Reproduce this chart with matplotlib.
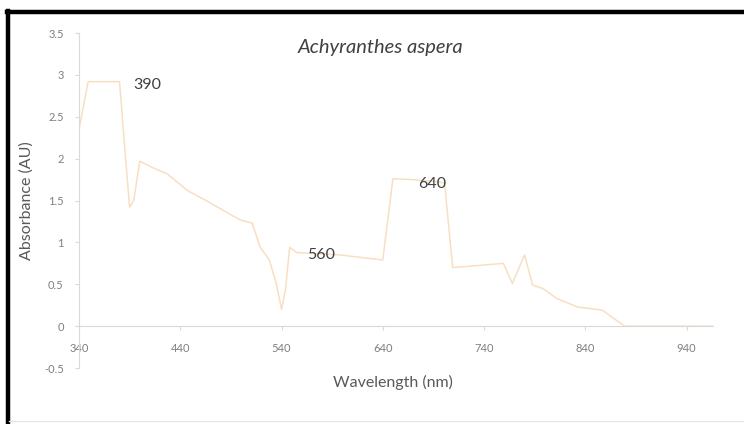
import matplotlib
matplotlib.use("Agg")
import matplotlib.pyplot as plt
from matplotlib.lines import Line2D
import numpy as np

plt.rcParams['font.family'] = ['Lato', 'DejaVu Sans']

# spectrum
wavelength = [340, 349, 380, 386, 390, 394, 400, 415, 427, 447, 470, 490, 499, 511, 519, 528,
              535, 540, 544, 548, 555, 598, 640, 650, 670, 690, 701, 709, 730, 759, 768, 780,
              788, 798, 812, 832, 857, 866, 879, 900, 940, 966]
absorbance = [2.35, 2.92, 2.92, 2.0, 1.42, 1.5, 1.97, 1.88, 1.82, 1.62, 1.47, 1.33, 1.27, 1.23, 0.94, 0.79,
              0.5, 0.2, 0.45, 0.94, 0.88, 0.85, 0.79, 1.76, 1.75, 1.73, 1.71, 0.70, 0.72, 0.75, 0.51, 0.85,
              0.49, 0.45, 0.33, 0.23, 0.19, 0.11, 0.0, 0.0, 0.0, 0.0]

peak_labels = ['390', '560', '640']
peak_x = [394, 565, 675]
peak_y = [2.88, 0.85, 1.70]

x_ticks = [340, 440, 540, 640, 740, 840, 940]
y_ticks = [-0.5, 0, 0.5, 1, 1.5, 2, 2.5, 3, 3.5]

fig = plt.figure(figsize=(7.44, 4.24), dpi=100)
ax = fig.add_axes([0.1062, 0.132, 0.852, 0.790])

ax.plot(wavelength, absorbance, color='#f8dfc2', lw=1.1)

for lab, px, py in zip(peak_labels, peak_x, peak_y):
    ax.text(px, py, lab, ha='left', va='center', fontsize=11.5, color='#404040')

ax.set_xlim(340, 966)
ax.set_ylim(-0.5, 3.5)
ax.set_xticks(x_ticks)
ax.set_yticks(y_ticks)
ax.set_yticklabels(['-0.5', '0', '0.5', '1', '1.5', '2', '2.5', '3', '3.5'])

for s in ['top', 'right']:
    ax.spines[s].set_visible(False)
ax.spines['bottom'].set_position(('data', 0))
ax.spines['bottom'].set_color('#d9d9d9')
ax.spines['left'].set_color('#d9d9d9')
ax.tick_params(axis='both', colors='#d9d9d9', labelcolor='#7f7f7f', labelsize=8, length=3)
ax.tick_params(axis='x', pad=9)
ax.tick_params(axis='y', pad=8)

ax.set_title('Achyranthes aspera', style='italic', fontsize=14.5, color='#404040',
             x=0.476, y=0.915)
fig.text(0.528, 0.097, 'Wavelength (nm)', ha='center', va='center', fontsize=11.5, color='#595959')
fig.text(0.036, 0.526, 'Absorbance (AU)', ha='center', va='center', rotation=90,
         fontsize=11.5, color='#595959')

# black frame of the screenshot (top and left)
fig.add_artist(Line2D([0.0095, 1.0], [0.972, 0.972], color='black', lw=3.2,
                      transform=fig.transFigure))
fig.add_artist(Line2D([0.0108, 0.0108], [0.0, 0.975], color='black', lw=3.2,
                      transform=fig.transFigure))
fig.add_artist(Line2D([0.012, 1.0], [0.007, 0.007], color='#e6e6e6', lw=1,
                      transform=fig.transFigure))

fig.savefig('out.png', dpi=100)
